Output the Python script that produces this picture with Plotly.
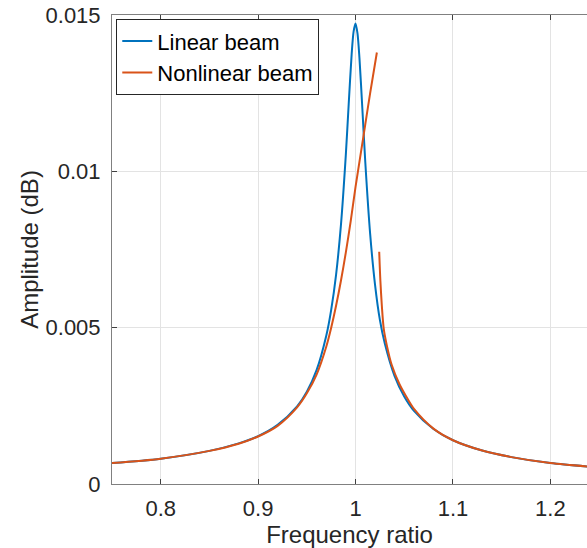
import plotly.graph_objects as go

# Linear beam
lin_x = [0.75, 0.80, 0.85, 0.88, 0.90, 0.92, 0.94, 0.95, 0.96, 0.97, 0.975, 0.98, 0.985,
         0.99, 0.993, 0.996, 0.998, 1.000, 1.002, 1.004, 1.007, 1.010, 1.015, 1.020,
         1.025, 1.030, 1.040, 1.050, 1.060, 1.080, 1.100, 1.130, 1.160, 1.200, 1.250]
lin_y = [0.00067, 0.00081, 0.00106, 0.00130, 0.00153, 0.00189, 0.00248, 0.00295, 0.00364,
         0.00475, 0.00557, 0.00669, 0.00828, 0.01052, 0.01216, 0.01374, 0.01447, 0.01473,
         0.01441, 0.01363, 0.01200, 0.01030, 0.00800, 0.00638, 0.00525, 0.00450, 0.00346,
         0.00280, 0.00234, 0.00176, 0.00140, 0.00107, 0.00086, 0.00067, 0.00053]

# Nonlinear beam: upper branch then lower branch (gap between)
nl_up_x = [0.75, 0.80, 0.85, 0.88, 0.90, 0.92, 0.94, 0.95, 0.96, 0.97, 0.975, 0.980,
           0.985, 0.990, 0.995, 1.000, 1.005, 1.010, 1.015, 1.0219]
nl_up_y = [0.00067, 0.00081, 0.00106, 0.00129, 0.00152, 0.00186, 0.00245, 0.00290, 0.00350,
           0.00440, 0.00500, 0.00570, 0.00650, 0.00740, 0.00840, 0.00950, 0.01050, 0.01150,
           0.01250, 0.01380]
nl_lo_x = [1.0243, 1.0255, 1.0270, 1.0290, 1.0320, 1.0370, 1.0450, 1.0520, 1.060, 1.080,
           1.100, 1.130, 1.160, 1.200, 1.250]
nl_lo_y = [0.00743, 0.00650, 0.00570, 0.00495, 0.00445, 0.00382, 0.00320, 0.00280, 0.00240,
           0.00177, 0.00140, 0.00107, 0.00086, 0.00067, 0.00053]

x_ticks = [0.8, 0.9, 1.0, 1.1, 1.2]
x_ticklabels = ["0.8", "0.9", "1", "1.1", "1.2"]
y_ticks = [0, 0.005, 0.01, 0.015]
y_ticklabels = ["0", "0.005", "0.01", "0.015"]

FONT = "Liberation Sans, Arial, sans-serif"
TXT = "#262626"

fig = go.Figure()
fig.add_trace(go.Scatter(x=lin_x, y=lin_y, mode="lines", name="Linear beam",
                         line=dict(color="#0072BD", width=2, shape="spline", smoothing=0.8)))
fig.add_trace(go.Scatter(x=nl_up_x + [None] + nl_lo_x, y=nl_up_y + [None] + nl_lo_y,
                         mode="lines", name="Nonlinear beam", connectgaps=False,
                         line=dict(color="#D95319", width=2, shape="spline", smoothing=0.8)))

fig.update_layout(
    width=587, height=548,
    margin=dict(l=112, r=0, t=15, b=64),
    paper_bgcolor="white", plot_bgcolor="white",
    font=dict(family=FONT, color=TXT, size=22),
    showlegend=True,
    legend=dict(x=0.009, y=0.991, xanchor="left", yanchor="top",
                bgcolor="white", bordercolor=TXT, borderwidth=1,
                font=dict(size=22, family=FONT, color="black"),
                itemwidth=30, tracegroupgap=0),
)
fig.update_xaxes(
    range=[0.75, 1.2376], tickvals=x_ticks, ticktext=x_ticklabels,
    showgrid=True, gridcolor="#e3e3e3", gridwidth=1, zeroline=False,
    showline=True, linecolor="#808080", linewidth=1, mirror="ticks",
    ticks="inside", ticklen=5, tickcolor="#404040",
    tickfont=dict(size=22, family=FONT, color=TXT), ticklabelstandoff=5,
    title=dict(text="Frequency ratio", font=dict(size=24, family=FONT, color=TXT), standoff=5),
)
fig.update_yaxes(
    range=[0, 0.015], tickvals=y_ticks, ticktext=y_ticklabels,
    showgrid=True, gridcolor="#e3e3e3", gridwidth=1, zeroline=False,
    showline=True, linecolor="#808080", linewidth=1, mirror=False,
    ticks="inside", ticklen=5, tickcolor="#404040",
    tickfont=dict(size=22, family=FONT, color=TXT), ticklabelstandoff=6,
    title=dict(text="Amplitude (dB)", font=dict(size=24, family=FONT, color=TXT), standoff=0),
)

fig.write_html("out.html")
